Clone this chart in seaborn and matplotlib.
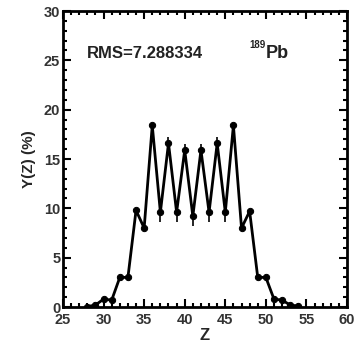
import matplotlib
matplotlib.use("Agg")
import matplotlib.pyplot as plt
from matplotlib.ticker import MultipleLocator
import numpy as np
import pandas as pd
import seaborn as sns

# Charge yield distribution Y(Z) for 189Pb
z_values = [28, 29, 30, 31, 32, 33, 34, 35, 36, 37, 38, 39, 40, 41,
            42, 43, 44, 45, 46, 47, 48, 49, 50, 51, 52, 53, 54]
yield_pct = [0.05, 0.2, 0.8, 0.7, 3.0, 3.0, 9.8, 8.0, 18.4, 9.6, 16.6, 9.6, 15.9, 9.2,
             15.9, 9.6, 16.6, 9.6, 18.4, 8.0, 9.7, 3.0, 3.0, 0.8, 0.7, 0.2, 0.1]
yield_err = [0, 0, 0, 0, 0, 0, 0, 0, 0, 1.0, 0.6, 1.0, 0.6, 1.0,
             0.6, 1.0, 0.6, 1.0, 0, 0, 0, 0, 0, 0, 0, 0, 0]

x_ticks = [25, 30, 35, 40, 45, 50, 55, 60]
y_ticks = [0, 5, 10, 15, 20, 25, 30]
rms_label = "RMS=7.288334"
mass_number = "189"
element = "Pb"

df = pd.DataFrame({"Z": z_values, "Y": yield_pct, "err": yield_err})

sns.set_style("ticks")
plt.rcParams["font.family"] = ["Liberation Sans", "DejaVu Sans"]
plt.rcParams["font.weight"] = "bold"

fig = plt.figure(figsize=(3.57, 3.46), dpi=100)
ax = fig.add_axes([0.1765, 0.1127, 0.7955, 0.8555])

ax.errorbar(df["Z"], df["Y"], yerr=df["err"], fmt="none", ecolor="black",
            elinewidth=1.2, capsize=0, zorder=2)
sns.lineplot(data=df, x="Z", y="Y", ax=ax, color="black", linewidth=2.0,
             marker="o", markersize=4.5, markeredgecolor="black", zorder=3)

ax.set_xlim(25, 60)
ax.set_ylim(0, 30)
ax.set_xticks(x_ticks)
ax.set_yticks(y_ticks)
ax.xaxis.set_minor_locator(MultipleLocator(1))
ax.yaxis.set_minor_locator(MultipleLocator(1))
ax.tick_params(which="both", direction="in", top=True, right=True,
               color="black", width=1.5)
ax.tick_params(which="major", length=6, labelsize=10.5, labelcolor="#333333")
ax.tick_params(axis="x", which="major", pad=4)
ax.tick_params(axis="y", which="major", pad=2)
ax.tick_params(which="minor", length=3)
for lbl in ax.get_xticklabels() + ax.get_yticklabels():
    lbl.set_fontweight("bold")
for sp in ax.spines.values():
    sp.set_linewidth(2.0)
    sp.set_color("black")

ax.set_xlabel("Z", fontsize=12, fontweight="bold", labelpad=1)
ax.set_ylabel("Y(Z) (%)", fontsize=11, fontweight="bold", labelpad=6)

ax.text(28, 25.2, rms_label, fontsize=12, fontweight="bold", color="#222222")
ax.text(48.0, 26.3, mass_number, fontsize=7, fontweight="bold", color="#222222")
ax.text(50.0, 25.2, element, fontsize=13, fontweight="bold", color="#222222")

fig.savefig("out.png", dpi=100)
